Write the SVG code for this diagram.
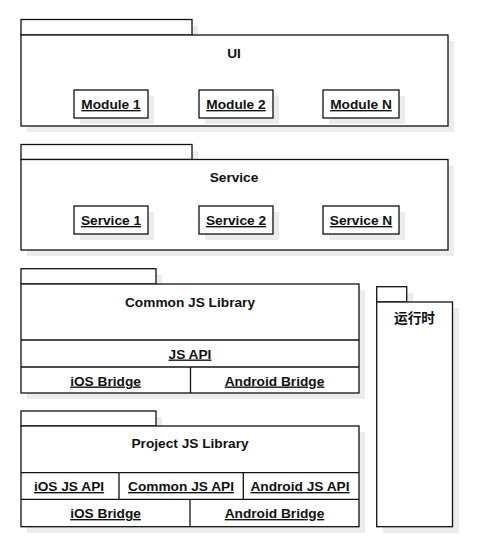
<svg xmlns="http://www.w3.org/2000/svg" width="477" height="548" viewBox="0 0 477 548">
<style>
.sh{fill:#ececec;stroke:none}
.b{fill:#fff;stroke:#111;stroke-width:1.3}
.n{fill:none;stroke:#111;stroke-width:1.3}
.t{font-family:"Liberation Sans",Arial,sans-serif;font-weight:bold;font-size:13.7px;fill:#111;text-anchor:middle}
.u{text-decoration:underline}
.c{font-family:"Liberation Sans","Noto Sans CJK SC",sans-serif}
</style>
<rect width="477" height="548" fill="#fff"/>
<g id="ui">
<rect class="sh" x="27" y="26" width="171" height="15"/>
<rect class="sh" x="27" y="41" width="427" height="91"/>
<rect class="b" x="21" y="19.5" width="171" height="15.5"/>
<rect class="b" x="21" y="35" width="427" height="91"/>
<text class="t" x="234" y="58">UI</text>
<g id="module1"><rect class="sh" x="80" y="96" width="74" height="28"/><rect class="b" x="74" y="90" width="74" height="28"/><text class="t u" x="111" y="109">Module 1</text></g>
<g id="module2"><rect class="sh" x="205" y="96" width="74" height="28"/><rect class="b" x="199" y="90" width="74" height="28"/><text class="t u" x="236" y="109">Module 2</text></g>
<g id="moduleN"><rect class="sh" x="329" y="96" width="76" height="28"/><rect class="b" x="323" y="90" width="76" height="28"/><text class="t u" x="361" y="109">Module N</text></g>
</g>
<g id="service">
<rect class="sh" x="27" y="151" width="171" height="15"/>
<rect class="sh" x="27" y="165.5" width="427" height="90.5"/>
<rect class="b" x="21" y="144.5" width="171" height="15"/>
<rect class="b" x="21" y="159.5" width="427" height="90.5"/>
<text class="t" x="234" y="182">Service</text>
<g id="service1"><rect class="sh" x="80" y="212" width="74" height="28"/><rect class="b" x="74" y="206" width="74" height="28"/><text class="t u" x="111" y="225">Service 1</text></g>
<g id="service2"><rect class="sh" x="205" y="212" width="74" height="28"/><rect class="b" x="199" y="206" width="74" height="28"/><text class="t u" x="236" y="225">Service 2</text></g>
<g id="serviceN"><rect class="sh" x="329" y="212" width="76" height="28"/><rect class="b" x="323" y="206" width="76" height="28"/><text class="t u" x="361" y="225">Service N</text></g>
</g>
<g id="common">
<rect class="sh" x="27" y="275" width="135" height="15"/>
<rect class="sh" x="27" y="290" width="338" height="109"/>
<rect class="b" x="21" y="268.7" width="135" height="15.3"/>
<rect class="b" x="21" y="284" width="338" height="109"/>
<line class="n" x1="21" y1="340" x2="359" y2="340"/>
<line class="n" x1="21" y1="367" x2="359" y2="367"/>
<line class="n" x1="190.5" y1="367" x2="190.5" y2="393"/>
<text class="t" x="190" y="306.5">Common JS Library</text>
<text class="t u" x="190" y="358.5">JS API</text>
<text class="t u" x="105.5" y="385.5">iOS Bridge</text>
<text class="t u" x="274.5" y="385.5">Android Bridge</text>
</g>
<g id="runtime">
<rect class="sh" x="383" y="293" width="30" height="15"/>
<rect class="sh" x="383" y="308" width="76" height="225"/>
<rect class="b" x="376.7" y="286.7" width="30" height="15.3"/>
<rect class="b" x="376.7" y="302" width="75.8" height="224.7"/>
<text class="t c" x="414.5" y="322.5">运行时</text>
</g>
<g id="project">
<rect class="sh" x="27" y="417" width="135" height="15"/>
<rect class="sh" x="27" y="432" width="338" height="100.7"/>
<rect class="b" x="21" y="411" width="135" height="15"/>
<rect class="b" x="21" y="426" width="338" height="100.7"/>
<line class="n" x1="21" y1="472.7" x2="359" y2="472.7"/>
<line class="n" x1="21" y1="499.3" x2="359" y2="499.3"/>
<line class="n" x1="119" y1="472.7" x2="119" y2="499.3"/>
<line class="n" x1="243.3" y1="472.7" x2="243.3" y2="499.3"/>
<line class="n" x1="190" y1="499.3" x2="190" y2="526.7"/>
<text class="t" x="190" y="448">Project JS Library</text>
<text class="t u" x="69" y="491">iOS JS API</text>
<text class="t u" x="181" y="491">Common JS API</text>
<text class="t u" x="300" y="491">Android JS API</text>
<text class="t u" x="105.5" y="518">iOS Bridge</text>
<text class="t u" x="274.5" y="518">Android Bridge</text>
</g>
</svg>
